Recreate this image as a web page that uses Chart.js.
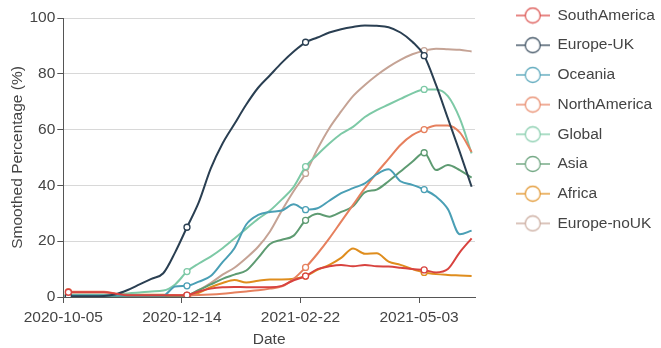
<!DOCTYPE html>
<html>
<head>
<meta charset="utf-8">
<script src="https://cdn.jsdelivr.net/npm/chart.js@4"></script>
<style>
  html, body { margin: 0; padding: 0; background: #fff; }
  #wrap { width: 661px; height: 348px; position: relative; }
</style>
</head>
<body>
<div id="wrap"><canvas id="c" width="661" height="348"></canvas></div>
<script>
const startDate = '2020-10-05';
const dates = ['2020-10-08','2020-10-15','2020-10-22','2020-10-29','2020-11-05','2020-11-12','2020-11-19','2020-11-26','2020-12-03','2020-12-10',
  '2020-12-17','2020-12-24','2020-12-31','2021-01-07','2021-01-14','2021-01-21','2021-01-28','2021-02-04','2021-02-11','2021-02-18',
  '2021-02-25','2021-03-04','2021-03-11','2021-03-18','2021-03-25','2021-04-01','2021-04-08','2021-04-15','2021-04-22','2021-04-29',
  '2021-05-06','2021-05-13','2021-05-20','2021-05-27','2021-06-03'];
const markerDates = ['2020-10-08','2020-12-17','2021-02-25','2021-05-06'];
const xTickLabels = ['2020-10-05','2020-12-14','2021-02-22','2021-05-03'];
const xEndDate = '2021-06-05';

const seriesNames = ['SouthAmerica','Europe-UK','Oceania','NorthAmerica','Global','Asia','Africa','Europe-noUK'];
const seriesColors = ['#d8433f','#2a3f52','#4a9fb5','#e6805e','#7dc9a6','#5e9b72','#df8d1d','#c5a395'];

const southAmerica = [1.7,1.7,1.7,1.7,1.2,0.6,0.6,0.6,0.6,0.6,0.7,2.0,3.0,3.5,3.6,3.5,3.5,3.5,4.0,6.0,7.5,10.0,11.0,11.5,11.0,11.5,11.0,10.9,10.5,10.0,9.7,8.8,10.0,16.0,21.0];
const europeUK = [0.3,0.3,0.3,0.4,1.0,2.5,4.5,6.5,8.5,16.0,25.0,34.0,46.0,55.0,62.0,69.0,75.0,79.5,84.0,88.0,91.3,93.0,94.8,96.0,96.8,97.3,97.2,96.7,94.8,91.5,86.5,76.0,64.0,52.0,39.5];
const oceania = [0.5,0.5,0.5,0.5,0.5,0.5,0.5,0.5,0.5,3.8,4.0,5.5,7.5,12.5,17.5,26.0,29.4,30.5,31.0,33.2,31.3,31.8,34.5,37.2,39.0,40.7,44.0,45.8,41.5,40.2,38.5,36.0,31.5,22.5,23.8];
const northAmerica = [1.9,1.9,1.9,1.9,1.2,0.8,0.7,0.7,0.7,0.6,0.6,0.7,0.9,1.2,1.6,2.0,2.4,3.0,3.8,6.5,10.6,15.5,21.0,27.0,33.0,39.0,44.5,49.5,54.5,58.0,60.0,61.5,61.5,59.0,52.0];
const globalSeries = [0.8,0.8,0.8,0.8,1.0,1.3,1.6,2.0,2.3,4.5,9.1,12.0,14.5,17.5,21.0,24.5,28.0,31.0,35.0,39.5,46.7,51.0,55.0,58.5,61.0,64.5,67.0,69.0,71.0,73.0,74.4,74.4,72.0,64.0,51.5];
const asia = [0.3,0.3,0.3,0.3,0.3,0.3,0.3,0.3,0.3,0.3,0.6,2.5,4.5,6.5,8.0,9.5,14.0,19.0,20.5,22.0,27.5,29.8,28.8,30.5,32.5,37.5,38.5,41.5,45.0,48.5,51.7,45.5,47.3,45.5,42.8];
const africa = [0.8,0.8,0.8,0.8,0.8,0.8,0.8,0.8,0.8,0.6,0.3,1.5,3.5,5.0,6.1,5.2,5.8,6.3,6.3,6.5,7.5,9.7,11.5,14.0,17.4,15.5,15.7,12.7,11.5,10.0,8.8,8.2,7.9,7.7,7.5];
const europeNoUK = [0.2,0.2,0.2,0.2,0.2,0.2,0.2,0.2,0.2,0.2,0.5,2.5,5.0,8.0,10.5,14.0,18.0,23.5,31.0,38.0,44.3,53.0,60.5,66.5,72.0,76.0,79.5,82.5,85.0,87.0,88.3,89.0,88.8,88.6,88.0];

const seriesValues = [southAmerica, europeUK, oceania, northAmerica, globalSeries, asia, africa, europeNoUK];

function dayOf(d) {
  return (Date.parse(d + 'T00:00:00Z') - Date.parse(startDate + 'T00:00:00Z')) / 864e5;
}
const xDays = dates.map(dayOf);
const tickDays = xTickLabels.map(dayOf);
const markerSet = new Set(markerDates);

const FONT = '"Liberation Sans", Arial, Helvetica, sans-serif';
const TEXT = '#444444';
const AXIS = '#555555';

function makeIcon(color) {
  const cv = document.createElement('canvas');
  cv.width = 34; cv.height = 18;
  const g = cv.getContext('2d');
  g.strokeStyle = color; g.lineWidth = 1.3; g.globalAlpha = 0.85;
  g.beginPath(); g.moveTo(0, 9); g.lineTo(34, 9); g.stroke();
  g.globalAlpha = 1;
  g.beginPath(); g.arc(17, 9, 7.5, 0, Math.PI * 2);
  g.fillStyle = '#fff'; g.fill();
  g.globalAlpha = 0.85; g.stroke();
  return cv;
}

const datasets = seriesNames.map((name, k) => ({
  label: name,
  data: xDays.map((x, i) => ({ x: x, y: seriesValues[k][i] })),
  borderColor: seriesColors[k],
  backgroundColor: seriesColors[k],
  borderWidth: 2,
  pointRadius: dates.map(d => markerSet.has(d) ? 3 : 0),
  pointHoverRadius: 3,
  pointBackgroundColor: '#ffffff',
  pointBorderColor: seriesColors[k],
  pointBorderWidth: 1.3,
  cubicInterpolationMode: 'monotone',
  fill: false
}));

const LEG_PAD = 14.2;
const legendPlugin = {
  id: 'legendPlace',
  beforeLayout(chart) {
    const lg = chart.legend;
    if (lg && !lg._patched) {
      const orig = lg.fit.bind(lg);
      lg.fit = function () { orig(); this.width = 186; };
      lg._patched = true;
    }
  },
  afterLayout(chart) {
    const lg = chart.legend;
    if (!lg) return;
    lg.left = 515.7 - LEG_PAD; lg.right = 661;
    lg.top = 15.5 - 7.75 - LEG_PAD; lg.bottom = 348;
  }
};

new Chart(document.getElementById('c'), {
  type: 'line',
  data: { datasets },
  plugins: [legendPlugin],
  options: {
    responsive: false,
    animation: false,
    events: [],
    layout: { padding: { top: 18, left: 0, right: 0, bottom: 0 } },
    plugins: {
      tooltip: { enabled: false },
      legend: {
        position: 'right',
        align: 'start',
        labels: {
          usePointStyle: true,
          pointStyleWidth: 34,
          padding: LEG_PAD,
          color: TEXT,
          font: { family: FONT, size: 15.5 },
          generateLabels(chart) {
            const items = Chart.defaults.plugins.legend.labels.generateLabels(chart);
            items.forEach((it, i) => { it.pointStyle = makeIcon(seriesColors[i]); it.fontColor = TEXT; });
            return items;
          }
        }
      }
    },
    scales: {
      x: {
        type: 'linear',
        min: 0,
        max: dayOf(xEndDate),
        afterBuildTicks(scale) { scale.ticks = tickDays.map(v => ({ value: v })); },
        afterFit(scale) { scale.height = 51; },
        ticks: {
          autoSkip: false,
          maxRotation: 0,
          padding: 5.5,
          color: TEXT,
          font: { family: FONT, size: 15.5 },
          callback(v) { const i = tickDays.indexOf(v); return i >= 0 ? xTickLabels[i] : ''; }
        },
        grid: { drawOnChartArea: false, drawTicks: true, tickLength: 6, tickColor: AXIS, tickWidth: 1 },
        border: { display: true, color: AXIS, width: 1 },
        title: { display: true, text: 'Date', color: TEXT, font: { family: FONT, size: 15.5, lineHeight: 1 }, padding: { top: 6, bottom: 0.3 } }
      },
      y: {
        min: 0,
        max: 100,
        afterFit(scale) { scale.width = 63.3; },
        ticks: { stepSize: 20, padding: 2, color: TEXT, font: { family: FONT, size: 15.5 } },
        grid: { color: '#d8d8d8', lineWidth: 1, drawTicks: true, tickLength: 6, tickColor: AXIS },
        border: { display: true, color: AXIS, width: 1 },
        title: { display: true, text: 'Smoothed Percentage (%)', color: TEXT, font: { family: FONT, size: 15.5, lineHeight: 1 }, padding: { top: 10.2, bottom: 2 } }
      }
    }
  }
});
</script>
</body>
</html>
